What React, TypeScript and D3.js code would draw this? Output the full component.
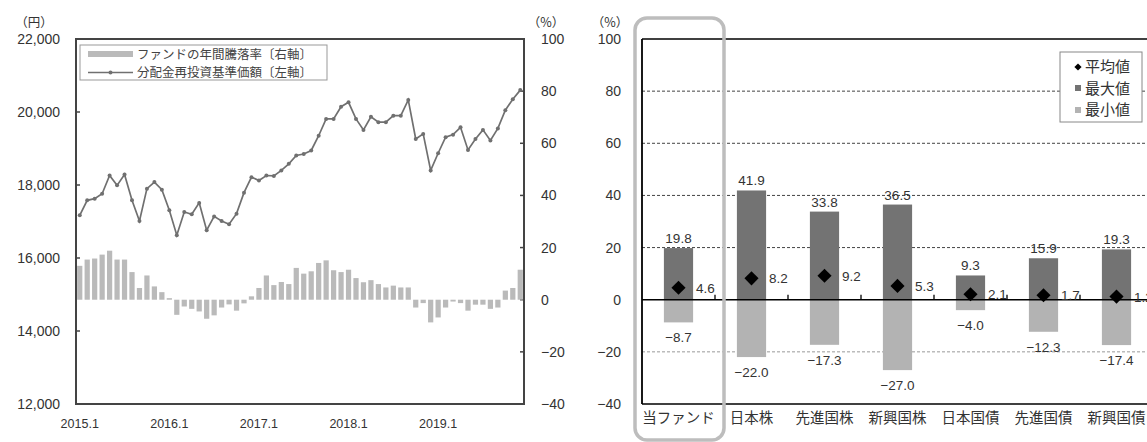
import React, { useEffect } from 'react';
import * as d3 from 'd3';

// ---------- Left chart data ----------
const navValues: number[] = [
  17170, 17580, 17625, 17760, 18260, 17990, 18290, 17580, 17015, 17900, 18080, 17870,
  17310, 16625, 17260, 17200, 17510, 16760, 17140, 17015, 16925, 17215, 17790, 18215,
  18125, 18260, 18250, 18400, 18580, 18810, 18850, 18945, 19350, 19810, 19810, 20145,
  20265, 19810, 19510, 19870, 19720, 19720, 19900, 19900, 20330, 19260, 19400, 18400,
  18870, 19310, 19380, 19580, 18960, 19260, 19510, 19220, 19550, 20050, 20350, 20600,
];
const returnValues: number[] = [
  13.0, 15.4, 15.8, 17.3, 18.8, 15.4, 15.4, 10.6, 4.5, 9.3, 5.1, 2.9,
  0.6, -5.8, -2.6, -3.5, -4.5, -7.3, -6.0, -3.0, -1.8, -4.2, -1.4, 1.3,
  4.5, 9.3, 5.6, 6.8, 6.0, 12.2, 10.0, 10.9, 14.1, 15.1, 11.3, 10.6,
  11.5, 8.3, 6.7, 7.5, 6.0, 4.7, 5.4, 4.7, 4.7, -3.0, -1.3, -8.7,
  -6.8, -3.0, -0.7, -1.3, -4.2, -1.9, -1.9, -3.5, -3.0, 3.5, 4.5, 11.5,
];
const monthIndex: number[] = d3.range(navValues.length);
const yearTickIndex: number[] = [0, 12, 24, 36, 48];
const yearTickLabels: string[] = ['2015.1', '2016.1', '2017.1', '2018.1', '2019.1'];
const navTicks: number[] = [12000, 14000, 16000, 18000, 20000, 22000];
const pctTicks: number[] = [-40, -20, 0, 20, 40, 60, 80, 100];
const legendLeft: string[] = ['ファンドの年間騰落率〔右軸〕', '分配金再投資基準価額〔左軸〕'];

// ---------- Right chart data ----------
const categories: string[] = ['当ファンド', '日本株', '先進国株', '新興国株', '日本国債', '先進国債', '新興国債'];
const avgValues: number[] = [4.6, 8.2, 9.2, 5.3, 2.1, 1.7, 1.2];
const maxValues: number[] = [19.8, 41.9, 33.8, 36.5, 9.3, 15.9, 19.3];
const minValues: number[] = [-8.7, -22.0, -17.3, -27.0, -4.0, -12.3, -17.4];
const gridValues: number[] = [80, 60, 40, 20, -20];
const legendRight: string[] = ['平均値', '最大値', '最小値'];

const NUM = "'Liberation Sans', Arial, sans-serif";
const JP = "'Noto Sans CJK JP', 'Noto Sans', sans-serif";
const TXT = '#333';
const MAXC = '#737373';
const MINC = '#b3b3b3';

export default function App() {
  useEffect(() => {
    document.body.style.margin = '0';
  }, []);

  // Left chart scales
  const xL = d3.scaleBand<number>().domain(monthIndex).range([76, 524]).paddingInner(0.3).paddingOuter(0.15);
  const cx = (i: number) => (xL(i) as number) + xL.bandwidth() / 2;
  const yL = d3.scaleLinear().domain([12000, 22000]).range([404, 39]);
  const yR = d3.scaleLinear().domain([-40, 100]).range([404, 39]);
  const line = d3.line<number>().x((_, i) => cx(i)).y((d) => yL(d));
  const fmtComma = d3.format(',');
  const fmtInt = d3.format('d');
  const fmt1 = d3.format('.1f');

  // Right chart scales
  const xC = d3.scaleBand<string>().domain(categories).range([642, 1153]).paddingInner(0.6).paddingOuter(0.3);
  const yC = d3.scaleLinear().domain([-40, 100]).range([404, 39]);
  const bw = xC.bandwidth();
  const step = xC.step();
  const c0 = yC(0);
  const diamond = d3.symbol().type(d3.symbolSquare).size(100)() as string;
  const smallDiamond = d3.symbol().type(d3.symbolSquare).size(26)() as string;

  return (
    <svg width={1147} height={442} style={{ position: 'absolute', left: 0, top: 0, background: '#fff' }}>
      {/* ================= LEFT CHART ================= */}
      <text x={34} y={27} textAnchor="middle" fontFamily={JP} fontSize={12.5} fill={TXT}>（円）</text>
      <text x={546} y={27} textAnchor="middle" fontFamily={JP} fontSize={12.5} fill={TXT}>（%）</text>
      {navTicks.map((t) => (
        <g key={'nl' + t}>
          <text x={60} y={yL(t) + 5} textAnchor="end" fontFamily={NUM} fontSize={14} fill={TXT}>{fmtComma(t)}</text>
          <line x1={76} x2={80} y1={yL(t)} y2={yL(t)} stroke="#444" strokeWidth={1.5} />
        </g>
      ))}
      {pctTicks.map((t) => (
        <g key={'pl' + t}>
          <text x={541} y={yR(t) + 5} textAnchor="start" fontFamily={NUM} fontSize={14} fill={TXT}>{fmtInt(t)}</text>
          <line x1={520} x2={524} y1={yR(t)} y2={yR(t)} stroke="#444" strokeWidth={1.5} />
        </g>
      ))}
      {returnValues.map((v, i) => (
        <rect key={'rb' + i} x={xL(i)} width={xL.bandwidth()} y={Math.min(yR(v), yR(0))}
          height={Math.abs(yR(v) - yR(0))} fill="#bababa" />
      ))}
      <path d={line(navValues) as string} fill="none" stroke="#707070" strokeWidth={1.7} />
      {navValues.map((v, i) => (
        <circle key={'nm' + i} cx={cx(i)} cy={yL(v)} r={2} fill="#707070" />
      ))}
      <rect x={76} y={39} width={448} height={365} fill="none" stroke="#444" strokeWidth={2} />
      {yearTickIndex.map((idx, k) => (
        <text key={'yt' + idx} x={cx(idx)} y={428} textAnchor="middle" fontFamily={NUM} fontSize={12.5} fill={TXT}>{yearTickLabels[k]}</text>
      ))}
      {/* left legend */}
      <rect x={80} y={45} width={247} height={35} fill="#fff" stroke="#999" strokeWidth={1} />
      <rect x={88} y={51} width={45} height={6} fill="#bababa" />
      <text x={137} y={59} fontFamily={JP} fontSize={12.5} fill="#444">{legendLeft[0]}</text>
      <line x1={88} x2={133} y1={72.5} y2={72.5} stroke="#707070" strokeWidth={1.5} />
      <circle cx={110.5} cy={72.5} r={2} fill="#707070" />
      <text x={137} y={77} fontFamily={JP} fontSize={12.5} fill="#444">{legendLeft[1]}</text>

      {/* ================= RIGHT CHART ================= */}
      <text x={610} y={27} textAnchor="middle" fontFamily={JP} fontSize={12.5} fill={TXT}>（%）</text>
      {pctTicks.map((t) => (
        <text key={'rt' + t} x={621} y={yC(t) + 5} textAnchor="end" fontFamily={NUM} fontSize={14} fill={TXT}>{fmtInt(t)}</text>
      ))}
      {gridValues.map((g) => (
        <line key={'g' + g} x1={642} x2={1153} y1={yC(g)} y2={yC(g)}
          stroke={g < 0 ? '#999' : '#444'} strokeWidth={1} strokeDasharray="3,2" />
      ))}
      {categories.map((c, i) => {
        const x0 = xC(c) as number;
        return (
          <g key={'c' + c}>
            <rect x={x0} width={bw} y={yC(maxValues[i])} height={c0 - yC(maxValues[i])} fill={MAXC} />
            <rect x={x0} width={bw} y={c0} height={yC(minValues[i]) - c0} fill={MINC} />
          </g>
        );
      })}
      <line x1={642} x2={1153} y1={c0} y2={c0} stroke="#000" strokeWidth={1.6} />
      {categories.slice(1).map((c) => {
        const bx = (xC(c) as number) - (step - bw) / 2;
        return <line key={'bt' + c} x1={bx} x2={bx} y1={c0} y2={c0 - 5} stroke="#000" strokeWidth={1.3} />;
      })}
      {categories.map((c, i) => {
        const x0 = xC(c) as number;
        const mid = x0 + bw / 2;
        return (
          <g key={'lab' + c}>
            <path d={diamond} transform={`translate(${mid},${yC(avgValues[i])}) rotate(45)`} fill="#000" />
            <text x={mid} y={yC(maxValues[i]) - 5} textAnchor="middle" fontFamily={NUM} fontSize={13.5} fill={TXT}>{fmt1(maxValues[i])}</text>
            <text x={mid} y={yC(minValues[i]) + 20} textAnchor="middle" fontFamily={NUM} fontSize={13.5} fill={TXT}>{fmt1(minValues[i])}</text>
            <text x={x0 + bw + 3} y={yC(avgValues[i]) + 5} textAnchor="start" fontFamily={NUM} fontSize={13.5} fill={TXT}>{fmt1(avgValues[i])}</text>
            <text x={mid} y={423} textAnchor="middle" fontFamily={JP} fontSize={14.5} fill={TXT}>{c}</text>
          </g>
        );
      })}
      <line x1={642} x2={642} y1={39} y2={404} stroke="#000" strokeWidth={1.8} />
      <line x1={642} x2={1153} y1={39} y2={39} stroke="#000" strokeWidth={1.6} />
      <line x1={642} x2={1153} y1={404} y2={404} stroke="#000" strokeWidth={1.6} />
      {/* right legend */}
      <rect x={1060} y={52} width={82} height={70} fill="#fff" stroke="#888" strokeWidth={1} />
      <path d={smallDiamond} transform="translate(1078,67) rotate(45)" fill="#000" />
      <rect x={1075} y={85} width={6} height={6} fill={MAXC} />
      <rect x={1075} y={107} width={6} height={6} fill={MINC} />
      {legendRight.map((t, k) => (
        <text key={'lr' + t} x={1085} y={72 + k * 21.5} fontFamily={JP} fontSize={15} fill={TXT}>{t}</text>
      ))}
      {/* highlight box around fund */}
      <rect x={635} y={18} width={89} height={422} rx={12} ry={12} fill="none" stroke="#bdbdbd" strokeWidth={3.5} />
    </svg>
  );
}
